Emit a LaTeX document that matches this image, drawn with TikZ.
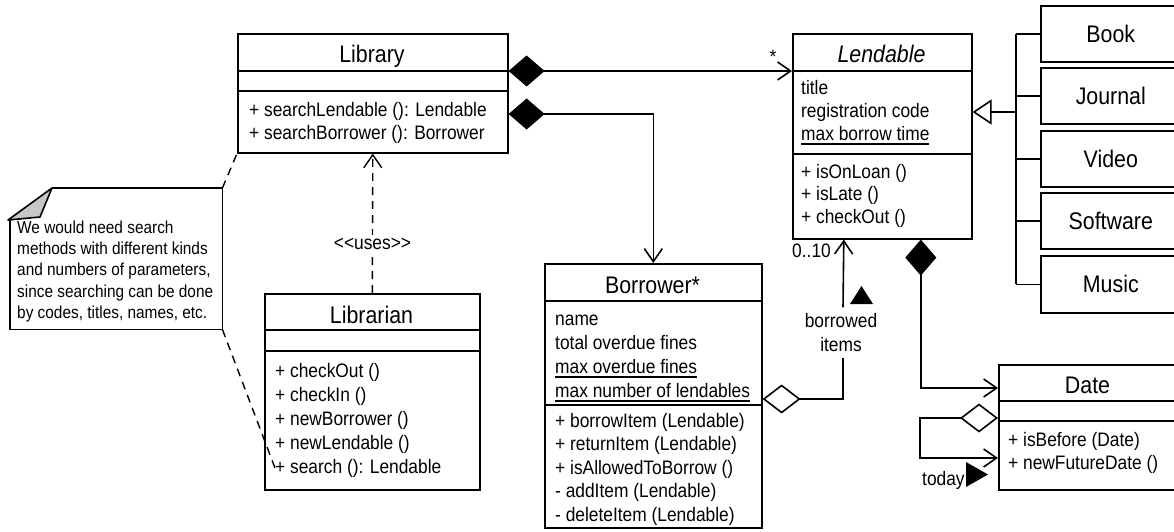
\documentclass[tikz,border=0pt]{standalone}
\usepackage{fontspec}
\setmainfont{Liberation Sans}[FakeStretch=0.89]
\usetikzlibrary{arrows.meta}

% text sizes (1pt = 1 unit of the drawing)
\newcommand\txtsize{\fontsize{19.5}{23.5}\selectfont}
\newcommand\ttlsize{\fontsize{24}{28}\selectfont}
\newcommand\notesize{\fontsize{17.3}{21}\selectfont}
% underline for static members
\newcommand\ulx[1]{\setbox0\hbox{#1}\rlap{\rule[-4.5pt]{\wd0}{1.4pt}}\box0}

\tikzset{
  lw/.style={line width=1.6pt},
  classbox/.style={draw, lw, inner sep=0pt, anchor=north west},
  ttl/.style={inner sep=0pt, anchor=base, font=\ttlsize},
  mem/.style={inner sep=0pt, anchor=base west, font=\txtsize},
  notetxt/.style={inner sep=0pt, anchor=base west, font=\notesize},
  lbl/.style={inner sep=0pt, font=\txtsize},
  barb/.style={-{Straight Barb[length=13pt,width=18pt]}},
  comp/.style={lw, {Diamond[length=36pt,width=31pt]}-{Straight Barb[length=13pt,width=18pt]}},
  agg/.style={lw, {Diamond[open,length=38pt,width=29pt]}-{Straight Barb[length=13pt,width=18pt]}},
  aggtail/.style={lw, {Diamond[open,length=38pt,width=29pt]}-},
  dep/.style={line width=1.4pt, dash pattern=on 8pt off 6pt},
  gen/.style={lw, -{Triangle[open,length=19pt,width=25pt]}},
}

\begin{document}
\begin{tikzpicture}[x=1pt, y=-1pt]
\useasboundingbox (0,0) rectangle (1174,532);
\fill[white] (0,0) rectangle (1174,532);
\clip (0,0) rectangle (1174,532);

% ---------- Library ----------
\node[classbox, minimum width=270pt, minimum height=119pt] (lib) at (237,33) {};
\draw[lw] ([yshift=-38pt]lib.north west) -- ([yshift=-38pt]lib.north east);
\draw[lw] ([yshift=-58pt]lib.north west) -- ([yshift=-58pt]lib.north east);
\node[ttl] (lib-t) at (372,63) {Library};
\node[mem] (lib-m1) at (249,116.5) {+ searchLendable (): Lendable};
\node[mem] (lib-m2) at (249,139.5) {+ searchBorrower (): Borrower};

% ---------- Lendable ----------
\node[classbox, minimum width=179pt, minimum height=205pt] (lend) at (792,33) {};
\draw[lw] ([yshift=-38pt]lend.north west) -- ([yshift=-38pt]lend.north east);
\draw[lw] ([yshift=-121pt]lend.north west) -- ([yshift=-121pt]lend.north east);
\node[ttl] (lend-t) at (881.5,63) {\textit{Lendable}};
\node[mem] (lend-a1) at (801,95) {title};
\node[mem] (lend-a2) at (801,117.5) {registration code};
\node[mem] (lend-a3) at (801,140) {\ulx{max borrow time}};
\node[mem] (lend-m1) at (801,178) {+ isOnLoan ()};
\node[mem] (lend-m2) at (801,200.5) {+ isLate ()};
\node[mem] (lend-m3) at (801,223) {+ checkOut ()};

% ---------- Librarian ----------
\node[classbox, minimum width=215pt, minimum height=196pt] (lbn) at (264,293) {};
\draw[lw] ([yshift=-37pt]lbn.north west) -- ([yshift=-37pt]lbn.north east);
\draw[lw] ([yshift=-58pt]lbn.north west) -- ([yshift=-58pt]lbn.north east);
\node[ttl] (lbn-t) at (371.5,323) {Librarian};
\node[mem] (lbn-m1) at (275,377) {+ checkOut ()};
\node[mem] (lbn-m2) at (275,401) {+ checkIn ()};
\node[mem] (lbn-m3) at (275,425) {+ newBorrower ()};
\node[mem] (lbn-m4) at (275,449) {+ newLendable ()};
\node[mem] (lbn-m5) at (275,473) {+ search (): Lendable};
\coordinate (srch) at (275,468);

% ---------- Borrower ----------
\node[classbox, minimum width=217pt, minimum height=264pt] (bor) at (544,263) {};
\draw[lw] ([yshift=-38pt]bor.north west) -- ([yshift=-38pt]bor.north east);
\draw[lw] ([yshift=-142pt]bor.north west) -- ([yshift=-142pt]bor.north east);
\node[ttl] (bor-t) at (652.5,293) {Borrower*};
\node[mem] (bor-a1) at (555,325) {name};
\node[mem] (bor-a2) at (555,349) {total overdue fines};
\node[mem] (bor-a3) at (555,373) {\ulx{max overdue fines}};
\node[mem] (bor-a4) at (555,397) {\ulx{max number of lendables}};
\node[mem] (bor-m1) at (555,427) {+ borrowItem (Lendable)};
\node[mem] (bor-m2) at (555,450.5) {+ returnItem (Lendable)};
\node[mem] (bor-m3) at (555,474) {+ isAllowedToBorrow ()};
\node[mem] (bor-m4) at (555,497.5) {- addItem (Lendable)};
\node[mem] (bor-m5) at (555,521) {- deleteItem (Lendable)};

% ---------- Date ----------
\node[classbox, minimum width=182pt, minimum height=125pt] (date) at (998,364) {};
\draw[lw] ([yshift=-37pt]date.north west) -- ([yshift=-37pt]date.north east);
\draw[lw] ([yshift=-57pt]date.north west) -- ([yshift=-57pt]date.north east);
\node[ttl] (date-t) at (1087.5,393) {Date};
\node[mem] (date-m1) at (1008,446) {+ isBefore (Date)};
\node[mem] (date-m2) at (1008,469) {+ newFutureDate ()};

% ---------- kinds of lendables ----------
\node[classbox, minimum width=140pt, minimum height=56pt, font=\ttlsize] (book) at (1040,5) {Book};
\node[classbox, minimum width=140pt, minimum height=56pt, font=\ttlsize] (journal) at (1040,67) {Journal};
\node[classbox, minimum width=140pt, minimum height=56pt, font=\ttlsize] (video) at (1040,130) {Video};
\node[classbox, minimum width=140pt, minimum height=56pt, font=\ttlsize] (software) at (1040,192) {Software};
\node[classbox, minimum width=140pt, minimum height=57pt, font=\ttlsize] (music) at (1040,255) {Music};

% generalisation tree
\draw[lw] ([xshift=-24pt]book.west) -- ([xshift=-24pt]music.west);
\foreach \k in {book,journal,video,software,music}
  \draw[lw] (\k.west) -- ++(-24,0);
\coordinate (gj) at (1016,112);
\draw[gen] (gj) -- (gj -| lend.east);

% ---------- note ----------
\node[minimum width=212pt, minimum height=141pt, inner sep=0pt, anchor=north west] (note) at (10,188) {};
\draw[lw] ([xshift=42pt]note.north west) -- (note.north east) -- (note.south east)
  -- (note.south west) -- ([yshift=-31pt]note.north west);
\draw[lw, fill=black!22, line join=round] ([xshift=42pt]note.north west)
  -- ([xshift=-2pt,yshift=-32pt]note.north west)
  -- ([xshift=30pt,yshift=-29pt]note.north west) -- cycle;
\node[notetxt] (note-1) at (17,233) {We would need search};
\node[notetxt] (note-2) at (17,254.5) {methods with different kinds};
\node[notetxt] (note-3) at (17,275.5) {and numbers of parameters,};
\node[notetxt] (note-4) at (17,297) {since searching can be done};
\node[notetxt] (note-5) at (17,318) {by codes, titles, names, etc.};

\draw[dep] (note.north east) -- (lib.south west);
\draw[dep] (note.south east) -- (srch);

% ---------- associations ----------
\draw[comp] ([yshift=-38pt]lib.north east) -- ([yshift=-38pt]lend.north west);
\node[lbl, anchor=base] (mult-star) at (773,64) {*};

\draw[comp] ([yshift=-81pt]lib.north east) -| (bor.north);

\draw[dep, barb] (lbn.north) -- node[lbl, fill=white, pos=0.35, inner sep=3pt] (uses)
  {<\kern0pt<uses>\kern0pt>} (lib.south);

\node[lbl, align=center, inner ysep=6pt, inner xsep=2pt] (bitems) at (841,332.5) {borrowed\\items};
\draw[aggtail] ([yshift=-136pt]bor.north east) -| ([xshift=2pt]bitems.south);
\draw[lw, barb] ([xshift=2pt]bitems.north) -- ([xshift=-38.5pt]lend.south);
\fill (850,304) -- (873,304) -- (861.5,286) -- cycle;
\node[lbl, anchor=base west] (mult-ten) at (792,257) {0..10};

\draw[comp] ([xshift=38.5pt]lend.south) |- ([yshift=-24pt]date.north west);

\draw[agg] ([yshift=-54pt]date.north west) -- ++(-78,0) |- ([yshift=-94pt]date.north west);
\node[lbl, anchor=base west] (today) at (922,485) {today};
\fill (966,462) -- (966,487) -- (988,474.5) -- cycle;

\end{tikzpicture}
\end{document}
